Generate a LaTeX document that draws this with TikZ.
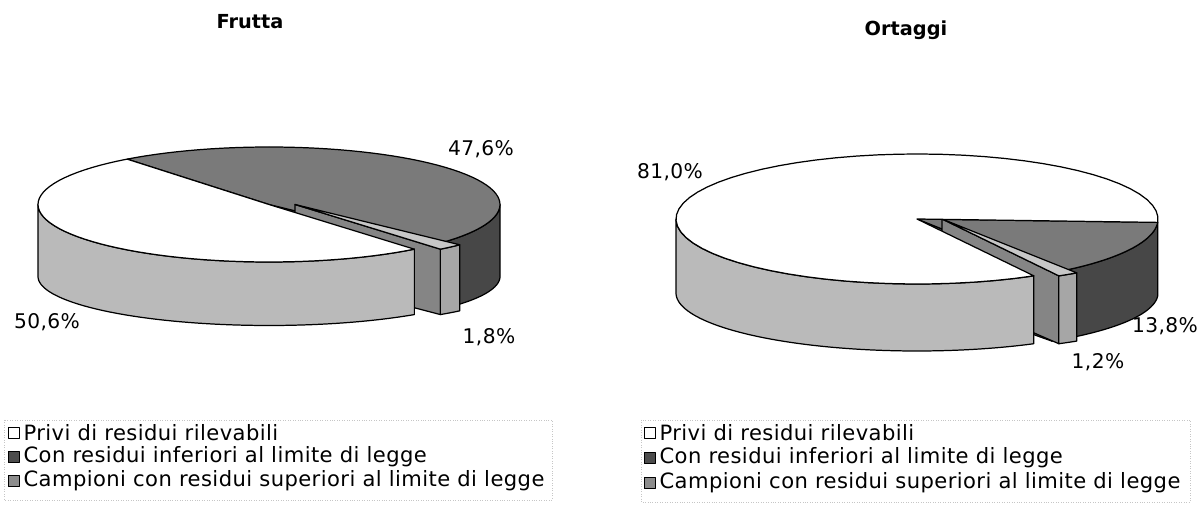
\documentclass[tikz,border=0pt]{standalone}
\usepackage{fontspec}
\setmainfont{DejaVu Sans}
\newfontfamily\legfont{DejaVu Sans}[LetterSpace=2.0]
\usetikzlibrary{positioning}

% pieces of a 3D pie; centre \pcx,\pcy, radii \prx,\pry, depth \ph, lower radius \pryb
\newcommand{\pietop}[4]{%
  \filldraw[fill=#4] ({\pcx+#3},\pcy) -- plot[domain=#1:#2,samples=60]
    ({\pcx+#3+\prx*cos(\x)},{\pcy+\pry*sin(\x)}) -- cycle;}
\newcommand{\pieside}[4]{%
  \filldraw[fill=#4] plot[domain=#1:#2,samples=60]
    ({\pcx+#3+\prx*cos(\x)},{\pcy+\pry*sin(\x)}) --
    plot[domain=#2:#1,samples=60]
    ({\pcx+#3+\prx*cos(\x)},{\pcy+\ph+\pryb*sin(\x)}) -- cycle;}
\newcommand{\piecut}[3]{%
  \filldraw[fill=#3] ({\pcx+#2},\pcy) --
    ({\pcx+#2+\prx*cos(#1)},{\pcy+\pry*sin(#1)}) --
    ({\pcx+#2+\prx*cos(#1)},{\pcy+\ph+\pryb*sin(#1)}) --
    ({\pcx+#2},{\pcy+\ph}) -- cycle;}

\begin{document}
\begin{tikzpicture}[x=0.02cm,y=-0.02cm,line width=0.7pt,line join=round,
    title/.style={font=\bfseries\fontsize{11}{13}\selectfont},
    pct/.style={font=\legfont\fontsize{11.5}{13}\selectfont,inner sep=0pt},
    leg/.style={anchor=west,inner sep=0pt,font=\legfont\fontsize{12}{14}\selectfont},
    legbox/.style={draw,line width=0.5pt,minimum size=6.3pt,inner sep=0pt},
    legframe/.style={gray!45,line width=0.4pt,densely dotted}]
\useasboundingbox (0,0) rectangle (1200,509);

\node[title] (tfr) at (250,22) {Frutta};
\node[title] (tor) at (906,30) {Ortaggi};

% Frutta
\begin{scope}
\def\pcx{269}\def\pcy{204.5}\def\prx{231}\def\pry{57.5}\def\ph{72}\def\pryb{49}
\piecut{44.5}{0}{black!60}
\pieside{0}{44.5}{0}{black!72}
\pietop{232.1}{404.5}{0}{black!52}
% pulled out slice
\piecut{51}{26}{black!48}
\pieside{44.5}{51}{26}{black!35}
\pietop{44.5}{51}{26}{black!22}
\pieside{51}{180}{0}{black!27}
\pietop{51}{232.1}{0}{white}
\end{scope}

\node[pct] (f2) at (481,149) {47,6\%};
\node[pct] (f1) at (47,322) {50,6\%};
\node[pct] (f3) at (489,337) {1,8\%};

% Ortaggi
\begin{scope}
\def\pcx{917}\def\pcy{219}\def\prx{241}\def\pry{65}\def\ph{74}\def\pryb{58}
\piecut{56}{0}{black!60}
\pieside{3}{56}{0}{black!72}
\pietop{3}{56}{0}{black!52}
% pulled out slice
\piecut{61}{25}{black!48}
\pieside{56}{61}{25}{black!35}
\pietop{56}{61}{25}{black!22}
\pieside{61}{180}{0}{black!27}
\pietop{61}{363}{0}{white}
\end{scope}

\node[pct] (o1) at (670,172) {81,0\%};
\node[pct] (o2) at (1165,326) {13,8\%};
\node[pct] (o3) at (1098,362) {1,2\%};

% legends
\draw[legframe] (4,420) rectangle (552,500);
\node[leg] (fl1) at (23,433) {Privi di residui rilevabili};
\node[leg] (fl2) at (23,457) {Con residui inferiori al limite di legge};
\node[leg] (fl3) at (23,481) {Campioni con residui superiori al limite di legge};
\node[legbox,fill=white] (fb1) [left=2pt of fl1] {};
\node[legbox,fill=black!70] (fb2) [left=2pt of fl2] {};
\node[legbox,fill=black!45] (fb3) [left=2pt of fl3] {};

\draw[legframe] (641,420) rectangle (1190,502);
\node[leg] (ol1) at (659,433) {Privi di residui rilevabili};
\node[leg] (ol2) at (659,458) {Con residui inferiori al limite di legge};
\node[leg] (ol3) at (659,483) {Campioni con residui superiori al limite di legge};
\node[legbox,fill=white] (ob1) [left=2pt of ol1] {};
\node[legbox,fill=black!70] (ob2) [left=2pt of ol2] {};
\node[legbox,fill=black!45] (ob3) [left=2pt of ol3] {};
\end{tikzpicture}
\end{document}
